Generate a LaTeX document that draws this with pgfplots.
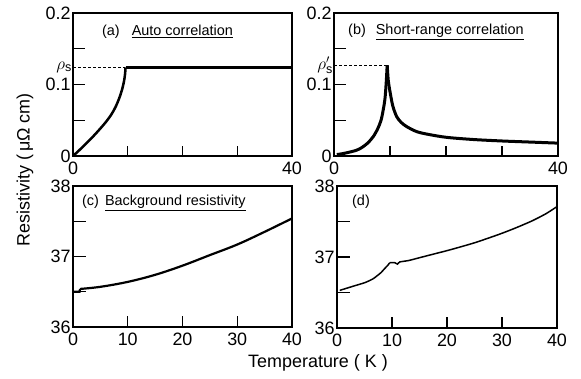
\documentclass[border=0pt]{standalone}
\usepackage{fontspec}
\setmainfont{Liberation Sans}
\usepackage{pgfplots}
\pgfplotsset{compat=1.18}
\pgfplotsset{
  panel/.style={
    scale only axis, clip=false, anchor=north west,
    axis line style={line width=1.6bp},
    tick pos=left, tick align=inside,
    major tick length=10bp,
    every major tick/.append style={black, line width=1.3bp},
    unbounded coords=jump,
    xmin=0, xmax=40,
    xtick={0,10,20,30,40},
    tick label style={font=\fontsize{18}{18}\selectfont},
    xticklabel style={yshift=-2bp},
    yticklabel style={xshift=1bp},
  },
  tickline/.style={black, line width=1.3bp, forget plot},
}
\begin{document}
\begin{tikzpicture}
\path (0,0) (581bp,-379bp);

% (a)
\begin{axis}[panel, at={(73bp,-13bp)}, width=219bp, height=143bp,
  ymin=0, ymax=0.2, ytick={0,0.05,0.1,0.15,0.2}, yticklabels={0,,0.1,,0.2},
  xticklabels={0,,,,40}]
\addplot[tickline] coordinates {(10,0) (10,0.0126) (nan,nan) (20,0) (20,0.0126) (nan,nan) (30,0) (30,0.0126)
 (nan,nan) (0,0.05) (2.19,0.05) (nan,nan) (0,0.1) (2.19,0.1) (nan,nan) (0,0.15) (2.19,0.15)};
\addplot[black, line width=2.5bp, smooth, tension=0.5] coordinates {
(0,0) (1,0.007) (2,0.0145) (3,0.022) (4,0.030) (5,0.0385) (6,0.0475) (7,0.058)
(7.8,0.069) (8.5,0.082) (9,0.094) (9.3,0.104) (9.5,0.114) (9.6,0.124)};
\addplot[black, line width=2.5bp] coordinates {(9.6,0.124) (40,0.124)};
\addplot[black, line width=1bp, dash pattern=on 3bp off 2bp] coordinates {(0,0.124) (9.5,0.124)};
\node[anchor=east, inner sep=1bp] at (axis cs:0,0.124) {\fontsize{18}{18}\selectfont$\rho_{\mathrm{s}}$};
\node[anchor=west, inner sep=0] at (rel axis cs:0.132,0.867) {\fontsize{14.5}{14.5}\selectfont(a)\hspace{12bp}\underline{Auto correlation}};
\end{axis}

% (b)
\begin{axis}[panel, at={(334bp,-13bp)}, width=224bp, height=143bp,
  ymin=0, ymax=0.2, ytick={0,0.05,0.1,0.15,0.2}, yticklabels={0,,0.1,,0.2},
  xticklabels={0,,,,40}]
\addplot[tickline] coordinates {(10,0) (10,0.0126) (nan,nan) (20,0) (20,0.0126) (nan,nan) (30,0) (30,0.0126)
 (nan,nan) (0,0.05) (2.14,0.05) (nan,nan) (0,0.1) (2.14,0.1) (nan,nan) (0,0.15) (2.14,0.15)};
\addplot[black, line width=3bp, smooth, tension=0.5] coordinates {
(0.5,0.002) (2,0.004) (4,0.008) (5,0.012) (6,0.018) (7,0.027) (7.8,0.038) (8.4,0.05)
(8.8,0.065) (9.1,0.08) (9.3,0.1) (9.5,0.127)};
\addplot[black, line width=3bp, smooth, tension=0.5] coordinates {
(9.5,0.127) (9.7,0.105) (10,0.09) (10.5,0.07)
(11.2,0.055) (12,0.047) (13,0.041) (14.8,0.034) (17,0.03) (20.2,0.026) (25,0.023)
(30,0.021) (35,0.0195) (40,0.018)};
\addplot[black, line width=1bp, dash pattern=on 3bp off 2bp] coordinates {(0,0.127) (9.4,0.127)};
\node[anchor=east, inner sep=1bp] at (axis cs:0,0.127) {\fontsize{18}{18}\selectfont$\rho'_{\mathrm{s}}$};
\node[anchor=west, inner sep=0] at (rel axis cs:0.0625,0.867) {\fontsize{14.5}{14.5}\selectfont(b)\hspace{10bp}\underline{Short-range correlation}};
\end{axis}

% (c)
\begin{axis}[panel, at={(73bp,-186bp)}, width=219bp, height=141bp,
  ymin=36, ymax=38, ytick={36,36.5,37,37.5,38}, yticklabels={36,,37,,38},
  xticklabels={0,10,20,30,40}]
\addplot[tickline] coordinates {(10,36) (10,36.156) (nan,nan) (20,36) (20,36.156) (nan,nan) (30,36) (30,36.156)
 (nan,nan) (0,36.5) (2.37,36.5) (nan,nan) (0,37) (2.37,37) (nan,nan) (0,37.5) (2.37,37.5)};
\addplot[black, line width=2.2bp] coordinates {(0,36.5) (1.2,36.5) (1.3,36.54)};
\addplot[black, line width=2.2bp, smooth, tension=0.6] coordinates {
(1.3,36.54) (5,36.57) (10,36.64) (15,36.74) (20,36.87)
(25,37.02) (30,37.17) (35,37.35) (40,37.54)};
\node[anchor=west, inner sep=0] at (rel axis cs:0.041,0.88) {\fontsize{14.5}{14.5}\selectfont(c)\hspace{6bp}\underline{Background resistivity}};
\end{axis}

% (d)
\begin{axis}[panel, at={(337bp,-186bp)}, width=220bp, height=142bp,
  ymin=36, ymax=38, ytick={36,36.5,37,37.5,38}, yticklabels={36,,37,,38},
  xticklabels={0,10,20,30,40}]
\addplot[tickline] coordinates {(10,36) (10,36.155) (nan,nan) (20,36) (20,36.155) (nan,nan) (30,36) (30,36.155)
 (nan,nan) (0,36.5) (2.36,36.5) (nan,nan) (0,37) (2.36,37) (nan,nan) (0,37.5) (2.36,37.5)};
\addplot[black, line width=1.5bp, smooth, tension=0.4] coordinates {
(0.5,36.53) (3,36.59) (5.1,36.64) (6.5,36.69) (7.2,36.73) (8,36.78) (8.7,36.84)
(9.2,36.88) (9.6,36.92)};
\addplot[black, line width=1.5bp, smooth, tension=0.4] coordinates {
(9.6,36.92) (10.5,36.92) (11,36.9) (11.4,36.93) (13,36.95) (15,36.99)
(17.5,37.04) (20.5,37.1) (25,37.2) (29.5,37.32) (32.5,37.41) (35.5,37.51) (38,37.61) (40,37.71)};
\node[anchor=west, inner sep=0] at (rel axis cs:0.068,0.887) {\fontsize{14.5}{14.5}\selectfont(d)};
\end{axis}

\node[rotate=90] at (25bp,-170bp) {\fontsize{18}{18}\selectfont Resistivity (\,μΩ cm)};
\node at (318bp,-363bp) {\fontsize{18}{18}\selectfont Temperature ( K )};
\end{tikzpicture}
\end{document}
